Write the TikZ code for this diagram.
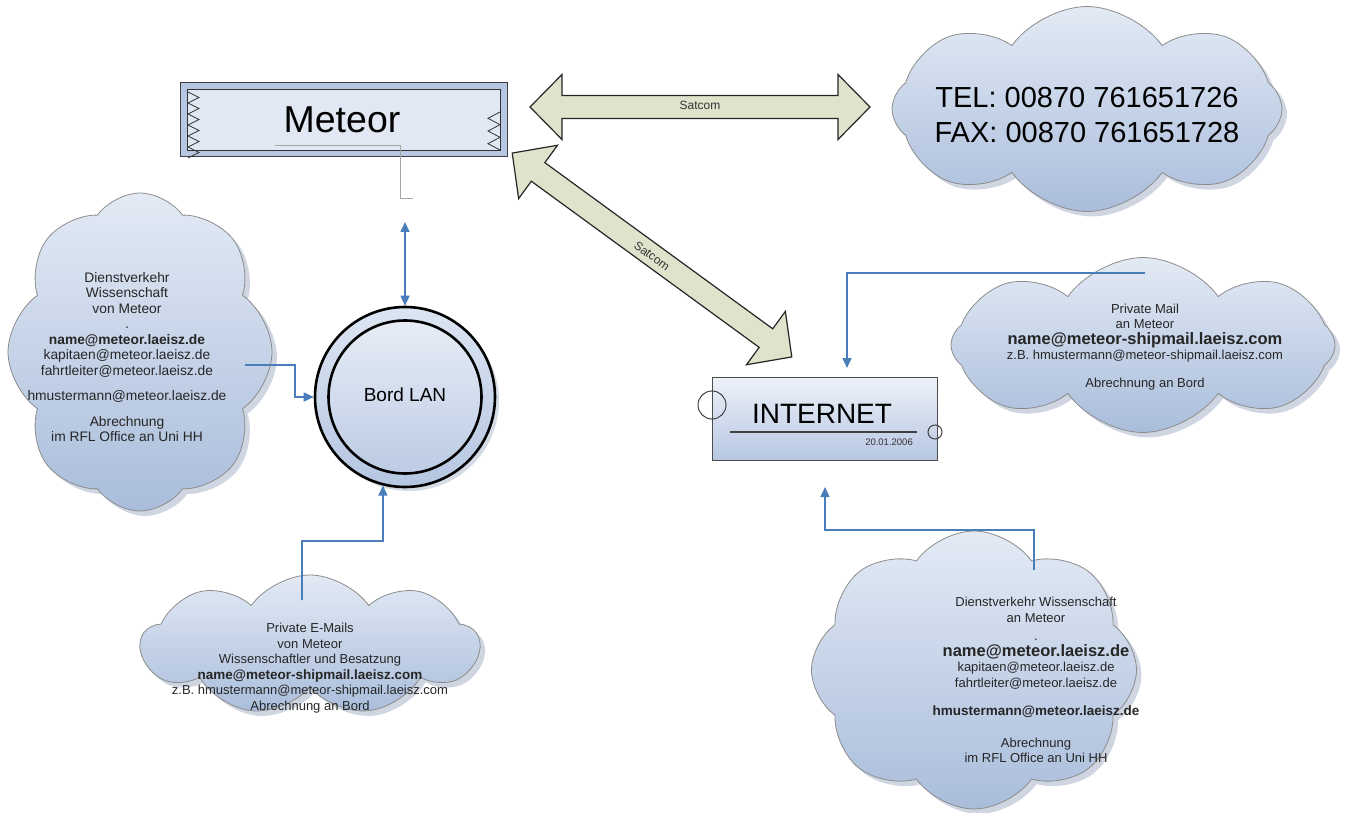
\documentclass[tikz,border=0pt]{standalone}
\usepackage{fontspec}
\setmainfont{Liberation Sans}
\usetikzlibrary{shapes.symbols,shadows,arrows.meta}
\definecolor{cloudtop}{HTML}{E3EAF5}
\definecolor{cloudbot}{HTML}{A9BDDB}
\definecolor{cloudline}{HTML}{8C8C8C}
\definecolor{conblue}{HTML}{4A7EBB}
\definecolor{satfill}{HTML}{DEE3CC}
\definecolor{boxout}{HTML}{B7C7E3}
\definecolor{boxin}{HTML}{E1E8F3}
\definecolor{shadowc}{HTML}{C3CCDA}
\definecolor{lantop}{HTML}{DCE5F2}
\definecolor{lanbot}{HTML}{B5C6E1}
\begin{document}
\begin{tikzpicture}[x=1pt,y=-1pt,
  cloudbox/.style={cloud, cloud ignores aspect, cloud puff arc=110, draw=cloudline, line width=0.8pt,
    top color=cloudtop, bottom color=cloudbot, inner sep=0pt,
    drop shadow={shadow xshift=5pt, shadow yshift=-5pt, fill=shadowc, opacity=0.8}},
  txt/.style={align=center, inner sep=0pt, font=\fontsize{13}{15.5}\selectfont, text=black!85},
  conn/.style={draw=conblue, line width=1.6pt, -{Triangle[length=10pt,width=9pt]}},
  satarrow/.style={draw=black!85, line width=1.2pt, fill=satfill, line join=miter},
  satlabel/.style={inner sep=0pt, font=\fontsize{12}{14}\selectfont, text=black!80}
]
\useasboundingbox (0,0) rectangle (1345,813);

% clouds
\node[cloudbox, minimum width=264pt, minimum height=318pt, cloud puffs=8] (c1) at (140,352) {};
\node[cloudbox, minimum width=338pt, minimum height=140pt, cloud puffs=9] (c2) at (310,645) {};
\node[cloudbox, minimum width=390pt, minimum height=205pt, cloud puffs=8] (c3) at (1087,109) {};
\node[cloudbox, minimum width=384pt, minimum height=175pt, cloud puffs=8] (c4) at (1143,345) {};
\node[cloudbox, minimum width=325pt, minimum height=278pt, cloud puffs=8] (c5) at (974,670) {};

% cloud texts
\node[txt, font=\fontsize{13.8}{15.5}\selectfont] (t1) at (127,357) {Dienstverkehr\\Wissenschaft\\von Meteor\\.\\\textbf{name@meteor.laeisz.de}\\kapitaen@meteor.laeisz.de\\fahrtleiter@meteor.laeisz.de\\[10pt]hmustermann@meteor.laeisz.de\\[10pt]Abrechnung\\im RFL Office an Uni HH};
\node[txt] (t2) at (310,668) {Private E-Mails\\von Meteor\\Wissenschaftler und Besatzung\\\textbf{\fontsize{13.5}{15.5}\selectfont name@meteor-shipmail.laeisz.com}\\z.B. hmustermann@meteor-shipmail.laeisz.com\\Abrechnung an Bord};
\node[align=center, inner sep=0pt, font=\fontsize{29}{35}\selectfont] (t3) at (1087,115) {TEL: 00870 761651726\\FAX: 00870 761651728};
\node[txt] (t4) at (1145,347) {Private Mail\\an Meteor\\\textbf{\fontsize{16.5}{17.5}\selectfont name@meteor-shipmail.laeisz.com}\\z.B. hmustermann@meteor-shipmail.laeisz.com\\[12pt]Abrechnung an Bord};
\node[txt] (t5) at (1036,680) {Dienstverkehr Wissenschaft\\an Meteor\\[3pt].\\\textbf{\fontsize{16.5}{17}\selectfont name@meteor.laeisz.de}\\kapitaen@meteor.laeisz.de\\fahrtleiter@meteor.laeisz.de\\[13pt]\textbf{\fontsize{13.5}{15.5}\selectfont hmustermann@meteor.laeisz.de}\\[16pt]Abrechnung\\im RFL Office an Uni HH};

% Meteor box
\node[draw=black!75, line width=1pt, fill=boxout, minimum width=327pt, minimum height=74pt, inner sep=0pt] (meteor) at (343.5,120) {};
\draw[black!80, line width=0.9pt, fill=boxin] ([shift={(8,7)}]meteor.north west) rectangle ([shift={(-7,-7)}]meteor.south east);
\draw[black!80, line width=0.8pt] (188,92) -- (199,97.5) -- (188,103) -- (199,108.5) -- (188,114) -- (199,119.5) -- (188,125) -- (199,130.5) -- (188,136) -- (199,141.5) -- (188,147) -- (199,152.5) -- (188,158);
\draw[black!80, line width=0.8pt] (500,112) -- (488,118.3) -- (500,124.7) -- (488,131) -- (500,137.3) -- (488,143.7) -- (500,150);
\node[inner sep=0pt, font=\fontsize{37.5}{40}\selectfont] (meteortxt) at (342,120) {Meteor};
\draw[black!35, line width=0.8pt] (275,145) -- (400,145) -- (400,198) -- (413,198);

% Satcom arrows
\begin{scope}[shift={(700,107)}]
\draw[satarrow] (-170,0) -- (-138,-32.5) -- (-138,-11.5) -- (138,-11.5) -- (138,-32.5) -- (170,0) -- (138,32.5) -- (138,11.5) -- (-138,11.5) -- (-138,32.5) -- cycle;
\end{scope}
\node[satlabel] (sat1) at (700,105) {Satcom};
\begin{scope}[shift={(652,255)}, rotate=-36.1]
\draw[satarrow] (-173,0) -- (-141,-33) -- (-141,-11.5) -- (141,-11.5) -- (141,-33) -- (173,0) -- (141,33) -- (141,11.5) -- (-141,11.5) -- (-141,33) -- cycle;
\end{scope}
\node[satlabel, rotate=-36.1] (sat2) at (652,256) {Satcom};

% Bord LAN
\node[circle, draw=black, line width=2.6pt, minimum size=180pt, top color=lantop, bottom color=lanbot, inner sep=0pt,
  drop shadow={shadow xshift=4pt, shadow yshift=-4pt, fill=shadowc, opacity=0.7}] (lan) at (405,397) {};
\node[circle, draw=black, line width=2.6pt, minimum size=153pt, top color=lantop!70!white, bottom color=lanbot!90!white, inner sep=0pt] (laninner) at (lan.center) {};
\node[inner sep=0pt, font=\fontsize{19}{21}\selectfont] (lantxt) at (405,395) {Bord LAN};

% INTERNET box
\node[draw=black!70, line width=1pt, minimum width=225pt, minimum height=83pt, inner sep=0pt,
  top color=boxin!60!white, bottom color=boxout] (inet) at (824.5,418.5) {};
\node[inner sep=0pt, font=\fontsize{28}{30}\selectfont] (inettxt) at (822,414) {INTERNET};
\draw[black!75, line width=1.2pt] (730,432) -- (917,432);
\node[inner sep=0pt, anchor=east, font=\fontsize{9.5}{11}\selectfont, text=black!80] (date) at (913,442) {20.01.2006};
\node[circle, draw=black!75, line width=1pt, minimum size=28pt, inner sep=0pt] (inl) at (712,405) {};
\node[circle, draw=black!75, line width=1pt, minimum size=14pt, inner sep=0pt] (inr) at (935,432) {};

% connectors
\coordinate (lanup) at (405,222);
\coordinate (c1out) at (245,365);
\coordinate (c2out) at (302,600);
\coordinate (c4out) at (1145,273);
\coordinate (inetin1) at (847,368);
\coordinate (c5out) at (1034,570);
\coordinate (inetin2) at (825,487);
\draw[conn, {Triangle[length=10pt,width=9pt]}-{Triangle[length=10pt,width=9pt]}] (lanup) -- (lan.north);
\draw[conn] (c1out) -- ++(50,0) |- (lan.west);
\draw[conn] (c2out) -- ++(0,-59) -| (lan.256);
\draw[conn] (c4out) -| (inetin1);
\draw[conn] (c5out) -- ++(0,-40) -| (inetin2);
\end{tikzpicture}
\end{document}
